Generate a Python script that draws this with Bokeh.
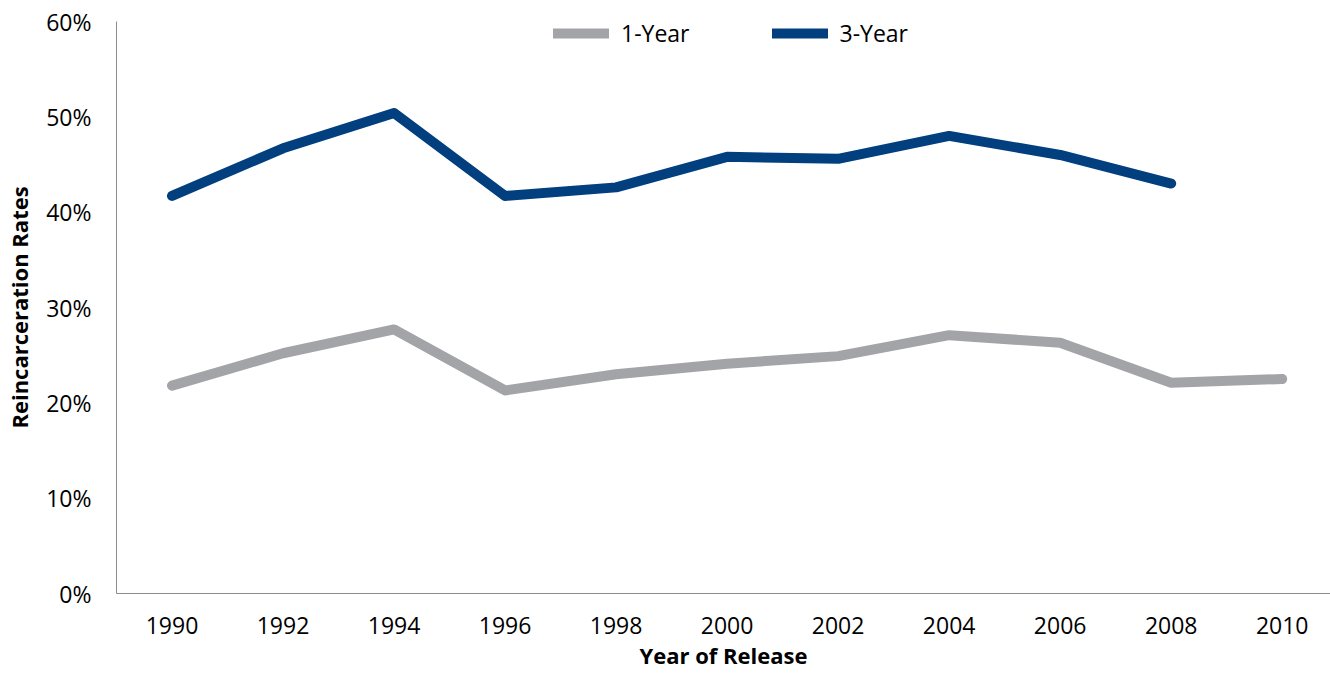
from bokeh.plotting import figure
from bokeh.models import Range1d, FixedTicker, NumeralTickFormatter, Legend, LegendItem
from bokeh.embed import file_html
from bokeh.resources import INLINE

years = [1990, 1992, 1994, 1996, 1998, 2000, 2002, 2004, 2006, 2008, 2010]
one_year = [0.218, 0.252, 0.277, 0.213, 0.230, 0.241, 0.249, 0.271, 0.263, 0.221, 0.225]
years_3 = [1990, 1992, 1994, 1996, 1998, 2000, 2002, 2004, 2006, 2008]
three_year = [0.417, 0.467, 0.504, 0.417, 0.426, 0.458, 0.456, 0.480, 0.460, 0.430]
y_ticks = [0, 0.1, 0.2, 0.3, 0.4, 0.5, 0.6]
x_title = "Year of Release"
y_title = "Reincarceration Rates"

GREY = "#A3A4A7"
BLUE = "#023F7E"
FONT = "Open Sans"

W, H = 1330, 679
p = figure(width=W, height=H, output_backend="svg", toolbar_location=None,
           x_range=Range1d(1989, 2010.87), y_range=Range1d(0, 0.6),
           min_border_left=116, min_border_right=0, min_border_top=21, min_border_bottom=86)
p.outline_line_color = None
p.xgrid.visible = False
p.ygrid.visible = False

l1 = p.line(years, one_year, line_color=GREY, line_width=10, line_cap="round", line_join="round")
l3 = p.line(years_3, three_year, line_color=BLUE, line_width=10, line_cap="round", line_join="round")

for ax in (p.xaxis[0], p.yaxis[0]):
    ax.axis_line_color = "#8C8C8C"
    ax.axis_line_width = 1
    ax.major_tick_line_color = None
    ax.minor_tick_line_color = None
    ax.major_label_text_font = FONT
    ax.major_label_text_color = "#000000"
    ax.axis_label_text_font = FONT
    ax.axis_label_text_font_style = "bold"
    ax.axis_label_text_color = "#000000"

p.xaxis.ticker = FixedTicker(ticks=years)
p.xaxis.major_label_text_font_size = "23px"
p.xaxis.major_label_standoff = 17
p.xaxis.axis_label = x_title
p.xaxis.axis_label_text_font_size = "22px"
p.xaxis.axis_label_standoff = 3

p.yaxis.ticker = FixedTicker(ticks=y_ticks)
p.yaxis.formatter = NumeralTickFormatter(format="0%")
p.yaxis.major_label_text_font_size = "23px"
p.yaxis.major_label_standoff = 19
p.yaxis.axis_label = y_title
p.yaxis.axis_label_text_font_size = "22px"
p.yaxis.axis_label_standoff = 9

legend = Legend(items=[LegendItem(label="1-Year", renderers=[l1]),
                       LegendItem(label="3-Year", renderers=[l3])],
                orientation="horizontal", location=(437, 544),
                border_line_color=None, background_fill_alpha=0,
                padding=0, margin=0, spacing=82,
                glyph_width=56, glyph_height=32, label_height=32, label_standoff=12,
                label_text_font=FONT, label_text_font_size="23px", label_text_color="#000000")
p.add_layout(legend)

open("out.html", "w").write(file_html(p, INLINE))
